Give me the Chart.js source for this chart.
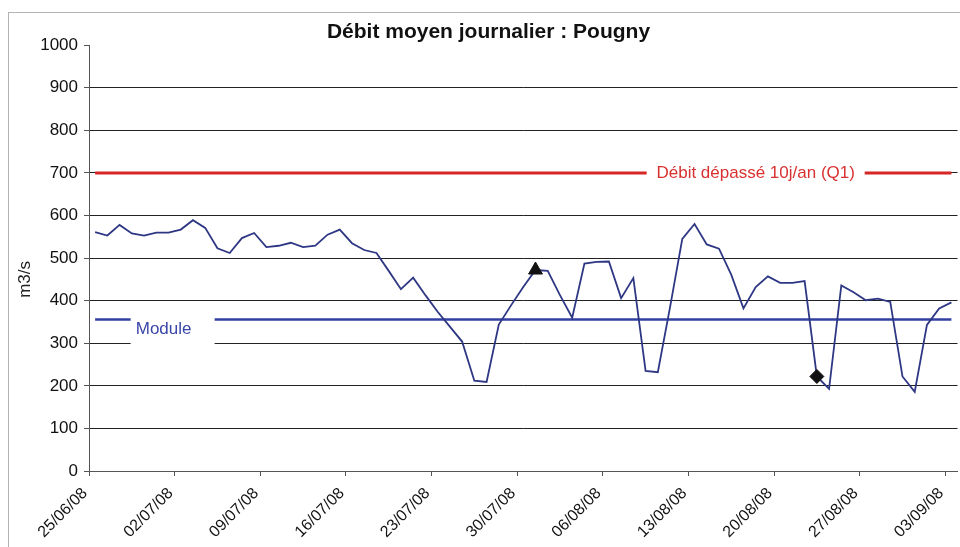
<!DOCTYPE html>
<html>
<head>
<meta charset="utf-8">
<title>Débit moyen journalier : Pougny</title>
<script src="https://cdn.jsdelivr.net/npm/chart.js@4.4.1/dist/chart.umd.min.js"></script>
<style>
  html, body { margin: 0; background: #fff; overflow: hidden; }
  canvas { display: block; }
</style>
</head>
<body>
<canvas id="chart" width="967" height="547"></canvas>
<script>
// one value per day, from 25/06/08 to 03/09/08
const tickLabels = ['25/06/08', '02/07/08', '09/07/08', '16/07/08', '23/07/08', '30/07/08',
  '06/08/08', '13/08/08', '20/08/08', '27/08/08', '03/09/08'];
const debit = [
  561, 553, 578, 558, 553, 560, 560, 567, 589, 571,
  523, 512, 547, 559, 526, 529, 536, 526, 529, 555,
  567, 535, 519, 512, 470, 427, 454, 413, 374, 339,
  304, 212, 209, 344, 389, 432, 472, 470, 413, 360,
  487, 491, 492, 406, 453, 235, 232, 385, 545, 580,
  532, 522, 461, 382, 432, 457, 442, 442, 446, 222,
  193, 436, 420, 401, 405, 397, 222, 186, 343, 382,
  396
];
const moduleValue = 356;
const q1Value = 700;
const maxDay = 36;   // triangle
const minDay = 59;   // diamond
const nbDays = debit.length;

Chart.defaults.font.family = '"Liberation Sans", Arial, sans-serif';

const pts = arr => arr.map((v, i) => ({ x: i + 0.5, y: v }));
const flat = v => debit.map((_, i) => ({ x: i + 0.5, y: v }));

// white frame, axis title and the labels sitting on the lines
const decor = {
  id: 'decor',
  beforeDraw(chart) {
    const c = chart.ctx;
    c.save();
    c.fillStyle = '#fff';
    c.fillRect(0, 0, chart.width, chart.height);
    c.strokeStyle = '#b4b4b4';
    c.lineWidth = 1;
    c.strokeRect(8.5, 12.5, 970, 545);
    c.restore();
  },
  afterDatasetsDraw(chart) {
    const c = chart.ctx;
    const xs = chart.scales.x, ys = chart.scales.y;
    c.save();
    c.font = '17px "Liberation Sans", Arial, sans-serif';
    c.textBaseline = 'middle';
    c.textAlign = 'center';

    // y axis title
    c.save();
    c.translate(25, ys.getPixelForValue(450));
    c.rotate(-Math.PI / 2);
    c.fillStyle = '#222';
    c.fillText('m3/s', 0, 0);
    c.restore();

    // Module
    let x = xs.getPixelForValue(6.1), y = ys.getPixelForValue(333);
    c.fillStyle = '#fff';
    c.fillRect(x - 33, y - 17, 84, 35);
    c.fillStyle = '#3a46a8';
    c.fillText('Module', x, y);

    // Q1
    x = xs.getPixelForValue(54.5); y = ys.getPixelForValue(q1Value);
    c.fillStyle = '#fff';
    c.fillRect(x - 109, y - 9, 218, 18);
    c.fillStyle = '#d93030';
    c.fillText('Débit dépassé 10j/an (Q1)', x, y);
    c.restore();
  }
};

new Chart(document.getElementById('chart'), {
  type: 'line',
  data: {
    datasets: [
      {
        label: 'max',
        data: [{ x: maxDay + 0.5, y: debit[maxDay] }],
        showLine: false,
        pointStyle: 'triangle',
        pointRadius: 8,
        backgroundColor: '#111',
        borderColor: '#111'
      },
      {
        label: 'min',
        data: [{ x: minDay + 0.5, y: debit[minDay] }],
        showLine: false,
        pointStyle: 'rectRot',
        pointRadius: 7,
        backgroundColor: '#111',
        borderColor: '#111'
      },
      {
        label: 'Débit',
        data: pts(debit),
        borderColor: '#2e3784',
        borderWidth: 1.8,
        pointRadius: 0,
        tension: 0
      },
      {
        label: 'Module',
        data: flat(moduleValue),
        borderColor: '#3340a0',
        borderWidth: 2.5,
        pointRadius: 0
      },
      {
        label: 'Q1',
        data: flat(q1Value),
        borderColor: '#d62626',
        borderWidth: 3,
        pointRadius: 0
      }
    ]
  },
  options: {
    responsive: false,
    animation: false,
    layout: { padding: { left: 10, right: 0, top: 0, bottom: 0 } },
    plugins: {
      legend: { display: false },
      tooltip: { enabled: false },
      title: {
        display: true,
        text: 'Débit moyen journalier : Pougny',
        color: '#111',
        font: { size: 21, weight: 'bold' },
        padding: { top: 20, bottom: 0 }
      }
    },
    scales: {
      x: {
        type: 'linear',
        min: 0,
        max: nbDays,
        afterBuildTicks: s => { s.ticks = tickLabels.map((_, k) => ({ value: k * 7 })); },
        afterFit: s => { s.height = 76; },
        ticks: {
          autoSkip: false,
          maxRotation: 45,
          minRotation: 45,
          padding: 8,
          labelOffset: -4,
          color: '#111',
          font: { size: 16 },
          callback: (v, i) => tickLabels[i]
        },
        grid: { drawOnChartArea: false, tickLength: 5, color: '#555' },
        border: { color: '#555', width: 1 }
      },
      y: {
        min: 0,
        max: 1000,
        afterFit: s => { s.width = 79; },
        ticks: { stepSize: 100, padding: 6, color: '#111', font: { size: 17 }, callback: v => String(v) },
        grid: {
          color: ctx => (ctx.tick && ctx.tick.value === 1000) ? 'rgba(0,0,0,0)' : '#222',
          tickColor: '#555',
          tickLength: 5,
          lineWidth: 1
        },
        border: { color: '#555', width: 1 }
      }
    }
  },
  plugins: [decor]
});
</script>
</body>
</html>
